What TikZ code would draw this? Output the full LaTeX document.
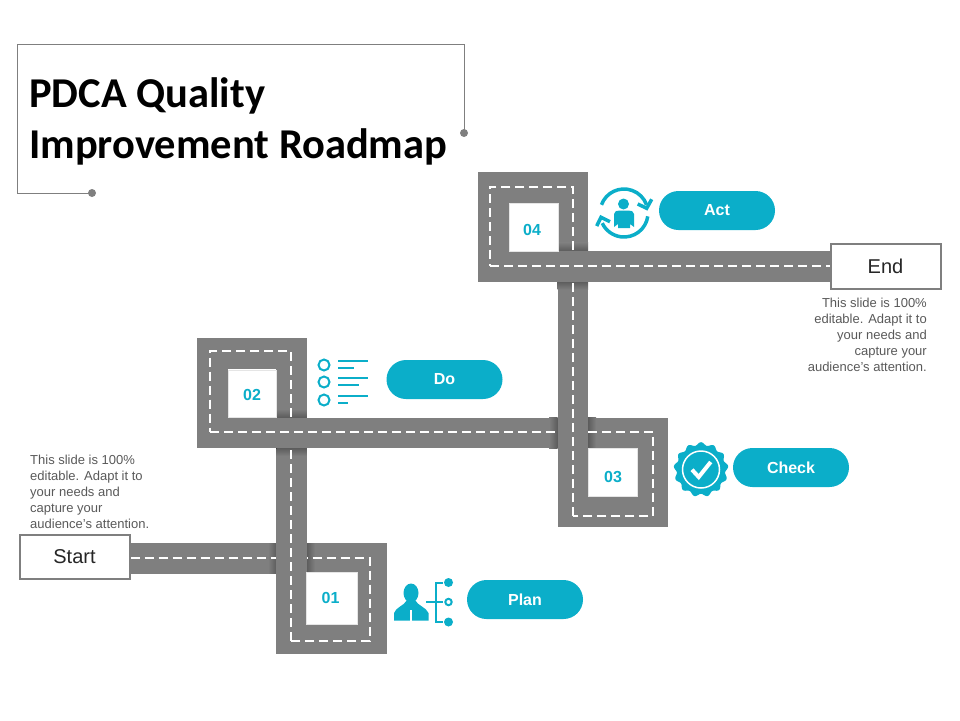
\documentclass[tikz,border=0pt]{standalone}
\usepackage{fontspec}
\setmainfont{Liberation Sans}
\newfontfamily\titlefont{Carlito}
\usetikzlibrary{calc}
\usetikzlibrary{backgrounds}
\definecolor{roadgray}{HTML}{7F7F7F}
\definecolor{roadshade}{HTML}{5C5C5C}
\definecolor{pdcateal}{HTML}{0BAEC9}
\definecolor{notegray}{HTML}{595959}
\tikzset{
  road/.style={draw=roadgray, line width=30.5pt, miter limit=10},
  roaddash/.style={draw=white, line width=2pt, dash pattern=on 9pt off 5pt},
  pill/.style={fill=pdcateal, rounded corners=19.5pt, minimum width=116pt, minimum height=39pt, inner sep=0pt, text=white, font=\fontsize{16}{18}\selectfont\bfseries},
  endbox/.style={draw=roadgray, line width=2pt, fill=white, minimum width=110pt, minimum height=44.5pt, inner sep=0pt, text=black!85, font=\fontsize{20}{24}\selectfont},
  slot/.style={fill=white, draw=black!10, line width=0.5pt, inner sep=0pt},
  number/.style={text=pdcateal, inner sep=0pt, font=\fontsize{16}{18}\selectfont\bfseries},
  note/.style={text=notegray, inner sep=0pt, font=\fontsize{13}{16}\selectfont},
  iconline/.style={draw=pdcateal, line width=2pt},
}
\begin{document}
\begin{tikzpicture}[x=1pt, y=-1pt]
      \useasboundingbox (0,0) rectangle (960,720);

      \draw[draw=roadgray, line width=1pt] (92,193) coordinate (framea) -- (17,193) -- (17,44) -- (464,44) -- (464,133) coordinate (frameb);
      \fill[roadgray] (framea) circle (4);
      \fill[roadgray] (frameb) circle (4);
      \node[anchor=north west, inner sep=0pt, align=left, font=\fontsize{42.5}{51}\titlefont\bfseries] (title) at (29,77) {PDCA Quality\\Improvement Roadmap};

      \node[endbox] (start) at (74.5,557) {Start};
      \node[endbox] (end) at (885.5,266.5) {End};

      \begin{pgfonlayer}{background}
        \draw[road] (start.center |- 0,558.25) -- (371.75,558.25) -- (371.75,638.25) -- (276.25,638.25);
        \fill[left color=roadgray, right color=roadshade] (268,543) rectangle (276.5,573.5);
        \fill[left color=roadshade, right color=roadgray] (306.5,543) rectangle (315,573.5);
        \draw[roaddash] (start.east |- 0,558) -- (370,558) -- (370,640.7) -- (291.2,640.7);

        \draw[road] (291.5,623) -- (291.5,353.25) -- (212.25,353.25) -- (212.25,448);
        \fill[top color=roadgray, bottom color=roadshade] (276.25,409) rectangle (306.75,417.5);
        \fill[top color=roadshade, bottom color=roadgray] (276.25,448) rectangle (306.75,456);
        \draw[roaddash] (291.2,640.7) -- (291.2,350.7) -- (210,350.7) -- (210,432.2);

        \draw[road] (227.5,432.75) -- (652.5,432.75) -- (652.5,511.5) -- (557.5,511.5);
        \fill[left color=roadgray, right color=roadshade] (549,417.5) rectangle (557.5,448);
        \fill[left color=roadshade, right color=roadgray] (588,417.5) rectangle (596,448);
        \draw[roaddash] (210,432.2) -- (653.3,432.2) -- (653.3,516) -- (573,516);

        \draw[road] (572.75,496.25) -- (572.75,187.25) -- (493.25,187.25) -- (493.25,282);
        \fill[top color=roadgray, bottom color=roadshade] (557.5,242.5) rectangle (588,251);
        \fill[top color=roadshade, bottom color=roadgray] (557.5,281.5) rectangle (588,289.5);
        \draw[roaddash] (573,516) -- (573,186.7) -- (490,186.7) -- (490,266);

        \draw[road] (508.5,266.5) -- (end.center |- 0,266.5);
        \draw[roaddash] (490,266) -- (end.west |- 0,266);
      \end{pgfonlayer}

      \node[slot, minimum width=51pt, minimum height=51.5pt] (slot1) at (332,598.25) {};
      \node[slot, minimum width=48pt, minimum height=47pt] (slot2) at (252.25,393.5) {};
      \node[slot, minimum width=49pt, minimum height=48pt] (slot3) at (612.75,472) {};
      \node[slot, minimum width=49pt, minimum height=48pt] (slot4) at (533.5,227) {};
      \node[number] (num1) at (330.5,598) {01};
      \node[number] (num2) at (252,394.5) {02};
      \node[number] (num3) at (613,476.5) {03};
      \node[number] (num4) at (532,229.5) {04};

      \node[pill] (plan) at (525,599.5) {Plan\hspace{7pt}};
      \node[pill] (do) at (444.5,379.5) {Do\hspace{3pt}};
      \node[pill] (check) at (791,467.5) {Check\hspace{7pt}};
      \node[pill] (act) at (717,210.5) {Act};

      \node[note, anchor=north west, align=left] (notestart) at (30,455) {This slide is 100\%\\editable. Adapt it to\\your needs and\\capture your\\audience's attention.};
      \node[note, anchor=north east, align=right] (noteend) at (927,298) {This slide is 100\%\\editable. Adapt it to\\your needs and\\capture your\\audience's attention.};

      \fill[pdcateal] (411,593) ellipse (7.5 and 9.5);
      \fill[pdcateal] (394,620.5) -- (394,613) .. controls (396,607) and (404,606) .. (407,600) -- (415,600) .. controls (418,606) and (426,607) .. (428.5,613) -- (428.5,620.5) -- cycle;
      \draw[draw=white, line width=1.2pt] (411,610) -- (411,620.5);
      \draw[iconline] (443,583) -- (436,583) -- (436,622) -- (443,622);
      \draw[iconline] (426,602) -- (443,602);
      \fill[pdcateal] (448.5,582.5) circle (4.5);
      \fill[pdcateal] (448.5,622) circle (4.5);
      \draw[iconline] (448.5,602) circle (3.2);

      \foreach \rowy/\shortx in {365/354, 382/359, 400/348} {
        \draw[iconline] (324,\rowy) circle (5.5);
        \draw[iconline, line width=1.7pt] (338,\rowy-4) -- (368,\rowy-4);
        \draw[iconline, line width=1.7pt] (338,\rowy+3) -- (\shortx,\rowy+3);
      }

      \fill[pdcateal] plot[samples=180, domain=0:358] ({701+(25.8+1.5*cos(13*(\x+90)))*cos(\x)}, {469.5+(25.8+1.5*cos(13*(\x+90)))*sin(\x)}) -- cycle;
      \draw[draw=white, line width=1.5pt] (701,469.5) circle (18.5);
      \draw[draw=white, line width=4pt] (692,469.7) -- (698.7,477) -- (710.7,462);

      \draw[iconline, line width=3.5pt] (624,213) ++(200:24) arc (200:340:24);
      \draw[iconline, line width=3.5pt] (624,213) ++(8:24) arc (8:155:24);
      \draw[iconline, line width=3.5pt] (637.7,204) -- (646.7,208.3) -- (651.7,199.3);
      \draw[iconline, line width=3.5pt] (596.7,226) -- (601,217.3) -- (610,221.7);
      \fill[pdcateal] (623.5,204) circle (5.5);
      \fill[pdcateal] (614,227) -- (614,214) .. controls (614,211) and (617,210.5) .. (620,210.5) -- (628,210.5) .. controls (631,210.5) and (634,211) .. (634,214) -- (634,227) -- (630,224) -- (630,228) -- (618,228) -- (618,224) -- cycle;
\end{tikzpicture}
\end{document}
